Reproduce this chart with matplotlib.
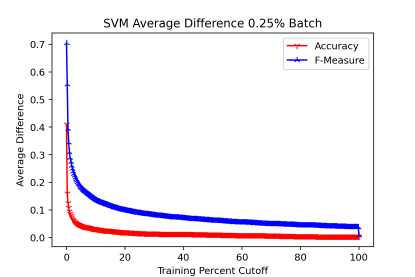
import numpy as np
import matplotlib
matplotlib.use("Agg")
import matplotlib.pyplot as plt

# average difference values, in thousandths, one per 0.25% step from 0 to 100
acc_milli = [
    410, 160, 126, 108, 95, 87, 80, 73, 68, 64, 60, 57, 55, 53, 51, 49, 48, 47, 46, 44, 43,
    42, 41, 41, 40, 40, 39, 38, 38, 37, 37, 36, 36, 35, 34, 34, 33, 33, 32, 32, 31,
    31, 30, 30, 30, 29, 29, 29, 28, 28, 28, 27, 27, 27, 27, 26, 26, 26, 26, 25, 25,
    25, 24, 24, 24, 24, 23, 23, 23, 23, 22, 22, 22, 22, 21, 21, 21, 21, 21, 20, 20,
    20, 20, 20, 19, 19, 19, 19, 19, 19, 18, 18, 18, 18, 18, 18, 18, 17, 17, 17, 17,
    17, 17, 17, 17, 17, 17, 16, 16, 16, 16, 16, 16, 16, 16, 16, 16, 16, 16, 16, 16,
    16, 16, 16, 16, 16, 15, 15, 15, 15, 15, 15, 15, 15, 15, 15, 15, 15, 15, 15, 15,
    15, 15, 15, 15, 15, 14, 14, 14, 14, 14, 14, 14, 14, 14, 14, 14, 14, 14, 14, 14,
    14, 14, 14, 14, 14, 14, 14, 14, 14, 14, 13, 13, 13, 13, 13, 13, 13, 13, 13, 13,
    13, 13, 13, 13, 13, 13, 13, 13, 13, 13, 12, 12, 12, 12, 12, 12, 12, 12, 12, 12,
    12, 12, 12, 12, 12, 12, 12, 12, 12, 12, 11, 11, 11, 11, 11, 11, 11, 11, 11, 11,
    11, 11, 11, 11, 11, 11, 11, 11, 11, 11, 10, 10, 10, 10, 10, 10, 10, 10, 10, 10,
    10, 10, 10, 10, 10, 10, 10, 10, 10, 10, 9, 9, 9, 9, 9, 9, 9, 9, 9, 9,
    9, 9, 9, 9, 9, 9, 9, 9, 9, 9, 8, 8, 8, 8, 8, 8, 8, 8, 8, 8,
    8, 8, 8, 8, 8, 8, 8, 8, 8, 8, 7, 7, 7, 7, 7, 7, 7, 7, 7, 7,
    7, 7, 7, 7, 7, 7, 7, 7, 7, 7, 6, 6, 6, 6, 6, 6, 6, 6, 6, 6,
    6, 6, 6, 6, 6, 6, 6, 6, 6, 6, 6, 6, 6, 6, 6, 6, 6, 6, 6, 6,
    5, 5, 5, 5, 5, 5, 5, 5, 5, 5, 5, 5, 5, 5, 5, 5, 5, 5, 5, 5,
    5, 5, 5, 5, 5, 5, 5, 5, 5, 5, 5, 5, 5, 5, 5, 5, 5, 5, 5, 5,
    5, 5, 5, 5, 5, 5, 5, 5, 5, 5, 5, 5, 5, 5, 5, 5, 5, 5, 5,
    3,
]

fm_milli = [
    705, 555, 395, 345, 310, 290, 275, 261, 250, 240, 232, 225, 218, 212, 207, 202, 197, 193, 189, 185, 181,
    178, 175, 173, 170, 168, 166, 163, 161, 159, 157, 155, 153, 151, 149, 147, 145, 143, 141, 139, 137,
    136, 134, 133, 132, 131, 129, 128, 127, 126, 125, 124, 123, 122, 121, 120, 119, 118, 117, 116, 115,
    114, 113, 112, 111, 110, 110, 109, 108, 107, 106, 106, 105, 104, 103, 103, 102, 101, 101, 100, 100,
    99, 99, 98, 98, 97, 96, 96, 95, 95, 94, 94, 93, 93, 92, 92, 91, 91, 90, 90, 89,
    89, 89, 88, 88, 87, 87, 87, 86, 86, 85, 85, 85, 84, 84, 84, 83, 83, 83, 82, 82,
    82, 81, 81, 81, 80, 80, 80, 79, 79, 79, 78, 78, 78, 77, 77, 77, 77, 76, 76, 76,
    75, 75, 75, 75, 74, 74, 74, 74, 73, 73, 73, 73, 73, 72, 72, 72, 72, 72, 71, 71,
    71, 71, 70, 70, 70, 70, 69, 69, 69, 69, 68, 68, 68, 68, 67, 67, 67, 67, 67, 66,
    66, 66, 66, 66, 65, 65, 65, 65, 65, 64, 64, 64, 64, 64, 64, 63, 63, 63, 63, 63,
    62, 62, 62, 62, 62, 61, 61, 61, 61, 61, 60, 60, 60, 60, 60, 59, 59, 59, 59, 59,
    58, 58, 58, 58, 58, 58, 57, 57, 57, 57, 57, 57, 57, 56, 56, 56, 56, 56, 56, 56,
    55, 55, 55, 55, 55, 55, 55, 54, 54, 54, 54, 54, 54, 54, 53, 53, 53, 53, 53, 53,
    52, 52, 52, 52, 52, 52, 51, 51, 51, 51, 51, 51, 51, 51, 50, 50, 50, 50, 50, 50,
    49, 49, 49, 49, 49, 49, 49, 49, 49, 49, 49, 49, 48, 48, 48, 48, 48, 48, 48, 48,
    47, 47, 47, 47, 47, 47, 47, 47, 47, 47, 47, 47, 46, 46, 46, 46, 46, 45, 45, 45,
    45, 45, 45, 45, 45, 45, 45, 45, 45, 45, 44, 44, 44, 44, 44, 44, 44, 44, 44, 44,
    43, 43, 43, 43, 43, 43, 43, 42, 42, 42, 42, 42, 42, 42, 42, 42, 41, 41, 41, 41,
    41, 41, 41, 41, 41, 41, 41, 41, 41, 41, 40, 40, 40, 40, 40, 40, 40, 40, 40, 40,
    40, 40, 39, 39, 39, 39, 39, 39, 39, 39, 39, 39, 38, 38, 38, 38, 38, 38, 38,
    8,
]

cutoff = np.arange(len(acc_milli)) * 0.25
accuracy = np.array(acc_milli) / 1000.0
fmeasure = np.array(fm_milli) / 1000.0

# draw at 3x and average down, like a downscaled screenshot
W, H = 415, 277
SS = 3
dpi = 70 * SS
fig, ax = plt.subplots(figsize=((W * SS + 0.3) / dpi, (H * SS + 0.3) / dpi), dpi=dpi)

ax.plot(cutoff, accuracy, color='red', marker='1', markersize=7, label='Accuracy')
ax.plot(cutoff, fmeasure, color='blue', marker='2', markersize=7, label='F-Measure')

ax.set_title('SVM Average Difference 0.25% Batch')
ax.set_xlabel('Training Percent Cutoff')
ax.set_ylabel('Average Difference')
ax.legend(loc='upper right')

fig.canvas.draw()
img = np.asarray(fig.canvas.buffer_rgba())[:H * SS, :W * SS].astype(float) / 255.0
img = img.reshape(H, SS, W, SS, 4).mean(axis=(1, 3))
plt.imsave('out.png', np.clip(img, 0, 1))
